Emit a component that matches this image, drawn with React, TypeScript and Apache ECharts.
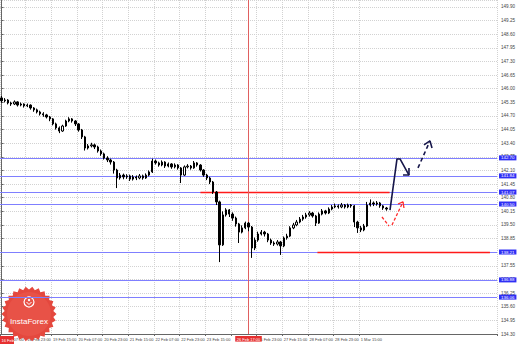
import React, { useEffect, useRef } from "react";
import * as echarts from "echarts";

// 2-hour candles
const opens = [145.56,145.42,145.46,145.32,145.27,145.37,145.22,145.27,145.18,145.22,145.08,144.99,144.89,144.80,144.75,144.65,144.56,144.32,144.13,143.98,
144.22,144.46,144.56,144.46,144.32,144.03,143.70,143.17,143.27,143.32,143.22,143.03,142.89,142.69,142.60,142.50,142.12,141.74,141.88,141.79,
141.84,141.69,141.79,141.74,141.84,141.74,141.88,142.03,142.55,142.46,142.36,142.50,142.31,142.41,142.27,142.36,142.22,141.88,142.27,142.31,
142.22,142.46,142.36,142.12,141.88,141.74,141.55,141.07,140.60,138.55,139.98,140.22,140.02,139.83,139.55,139.16,139.36,139.59,139.40,138.40,
138.78,139.07,139.16,139.07,138.78,138.64,138.59,138.69,138.50,138.88,138.97,139.36,139.50,139.64,139.78,139.88,139.98,140.07,139.93,139.59,
140.02,140.17,140.07,140.26,140.36,140.41,140.36,140.45,140.36,140.45,140.41,139.64,139.36,139.26,139.45,140.45,140.55,140.50,140.55,140.41,140.31];
const closes = [145.42,145.46,145.32,145.27,145.37,145.22,145.27,145.18,145.22,145.08,144.99,144.89,144.80,144.75,144.65,144.56,144.32,144.13,143.98,144.22,
144.46,144.56,144.46,144.32,144.03,143.70,143.17,143.27,143.32,143.22,143.03,142.89,142.69,142.60,142.50,142.12,141.74,141.88,141.79,141.84,
141.69,141.79,141.74,141.84,141.74,141.88,142.03,142.55,142.46,142.36,142.50,142.31,142.41,142.27,142.36,142.22,141.88,142.27,142.31,142.22,
142.46,142.36,142.12,141.88,141.74,141.55,141.07,140.60,138.55,139.98,140.22,140.02,139.83,139.55,139.16,139.36,139.59,139.40,138.40,138.78,
139.07,139.16,139.07,138.78,138.64,138.59,138.69,138.50,138.88,138.97,139.36,139.50,139.64,139.78,139.88,139.98,140.07,139.93,139.59,140.02,
140.17,140.07,140.26,140.36,140.41,140.36,140.45,140.36,140.45,140.41,139.64,139.36,139.26,139.45,140.45,140.55,140.50,140.55,140.41,140.31,140.26];
const highs = [145.65,145.55,145.50,145.38,145.44,145.40,145.34,145.30,145.29,145.25,145.12,145.05,144.95,144.88,144.80,144.70,144.60,144.38,144.20,144.28,
144.52,144.64,144.60,144.50,144.36,144.08,143.75,143.36,143.42,143.38,143.28,143.10,142.95,142.78,142.66,142.55,142.18,141.98,141.95,141.92,
141.90,141.88,141.86,141.93,141.90,141.96,142.10,142.66,142.62,142.52,142.58,142.54,142.48,142.45,142.44,142.40,142.26,142.34,142.40,142.36,
142.55,142.50,142.40,142.16,141.94,141.80,141.60,141.12,140.66,140.15,140.30,140.26,140.10,139.90,139.60,139.48,139.66,139.64,139.45,138.90,
139.18,139.26,139.22,139.12,138.85,138.72,138.78,138.74,138.95,139.08,139.44,139.60,139.74,139.88,139.98,140.08,140.16,140.12,139.98,140.10,
140.26,140.22,140.34,140.45,140.52,140.48,140.55,140.50,140.52,140.50,140.45,139.70,139.45,139.55,140.60,140.72,140.62,140.64,140.60,140.45,140.36];
const lows = [145.33,145.35,145.25,145.18,145.22,145.15,145.16,145.10,145.12,145.00,144.90,144.82,144.72,144.66,144.58,144.45,144.25,144.05,143.88,143.94,
144.18,144.40,144.38,144.22,143.95,143.60,143.05,143.10,143.20,143.12,142.95,142.80,142.62,142.50,142.38,141.95,141.26,141.66,141.68,141.70,
141.60,141.62,141.64,141.68,141.66,141.70,141.82,141.98,142.38,142.28,142.30,142.22,142.25,142.18,142.20,142.14,141.50,141.84,142.20,142.14,
142.18,142.28,142.05,141.80,141.64,141.45,140.98,140.45,137.73,138.50,139.90,139.88,139.70,139.42,138.64,139.10,139.30,139.20,137.93,138.30,
138.70,139.00,138.95,138.68,138.55,138.50,138.52,138.07,138.44,138.80,138.92,139.30,139.44,139.58,139.70,139.80,139.90,139.85,139.45,139.55,
139.96,140.00,140.02,140.20,140.30,140.28,140.30,140.28,140.30,140.32,139.40,139.12,139.16,139.20,139.40,140.38,140.40,140.42,140.32,140.22,140.18];

// time-axis tick labels, one every 8 bars ("" = hidden under the red marker label)
const tickLabels = ["07:00","16 Feb 23:00","19 Feb 15:00","20 Feb 07:00","20 Feb 23:00","21 Feb 15:00","22 Feb 07:00","22 Feb 23:00","23 Feb 15:00","","26 Feb 23:00","27 Feb 15:00","28 Feb 07:00","28 Feb 23:00","1 Mar 15:00"];
const firstDateLabel = "16 Feb";
const TICK_EVERY = 8;
const SLOTS = 155;

// price scale (labels from 134.30 every 0.65 up to 149.90; the top edge sits a little above)
const yMin = 134.3;
const yMax = 150.23;
const yStep = 0.65;

// drawn levels
const blueLevels = [142.70, 141.84, 141.07, 140.50, 138.21, 136.88, 136.06];
const currentPrice = 140.26;
const redLevelPrices = [141.07, 138.21];
const redLevelStart = [62, 98.5];
const redLevelEnd = [121, 152.3];
const vLineIndex = 77;
const vLineLabel = "26 Feb 17:00";

// drawn arrows (bar index, price)
const blackPath = [[121.13, 140.21], [123.31, 142.65], [124.25, 142.65], [127.05, 141.88]];
const blackHead = [[127.05, 142.22], [127.05, 141.88], [125.18, 141.88]];
const dashPath = [[129.86, 142.22], [133.6, 143.51]];
const dashHead = [[131.73, 143.32], [133.6, 143.51], [134.23, 143.17]];
const redPathA = [[118.63, 139.88], [120.82, 139.45]];
const redPathB = [[121.75, 139.5], [125.18, 140.6]];
const redHead = [[123.62, 140.5], [125.18, 140.6], [125.49, 140.31]];

const FONT = "Liberation Sans";
const XFS = 4.0;

export default function App() {
  const ref = useRef<HTMLDivElement>(null);
  useEffect(() => {
    if (!ref.current) return;
    const chart = echarts.init(ref.current, null, { renderer: "svg" });
    const categories = Array.from({ length: SLOTS }, (_, i) => String(i));
    const candles = opens.map((o, i) => [o, closes[i], lows[i], highs[i]]);
    const showTick = (idx: number) => idx % TICK_EVERY === 0 && idx / TICK_EVERY < tickLabels.length;

    // starburst logo
    const cx = 29, cy = 314, spikes = 26;
    const burst: number[][] = [];
    for (let k = 0; k < spikes * 2; k++) {
      const r = k % 2 === 0 ? 27.5 : 24.5;
      const a = (Math.PI * k) / spikes;
      burst.push([cx + r * Math.cos(a), cy + r * Math.sin(a)]);
    }

    const annStyle = (color: string, type: any, width: number) => ({
      type: "line",
      xAxisIndex: 1,
      yAxisIndex: 0,
      symbol: "none",
      silent: true,
      lineStyle: { color, type, width },
      z: 5,
    });

    const boxLabel = (text: string, bg: string, position: string, size: number) => ({
      show: true,
      position,
      distance: 2,
      formatter: text,
      backgroundColor: bg,
      color: "#fff",
      fontSize: size,
      lineHeight: size + 0.6,
      padding: [0, 2, 0, 2],
      fontFamily: FONT,
    });

    chart.setOption({
      animation: false,
      backgroundColor: "#ffffff",
      textStyle: { fontFamily: FONT },
      grid: { left: 0, right: 22, top: 0, bottom: 10, containLabel: false },
      xAxis: [
        {
          type: "category",
          data: categories,
          boundaryGap: true,
          axisLine: { show: true, lineStyle: { color: "#666", width: 1 } },
          axisTick: { show: true, interval: showTick, length: 2, lineStyle: { color: "#666" } },
          axisLabel: {
            interval: showTick,
            formatter: (_v: string, idx: number) => {
              const t = tickLabels[idx / TICK_EVERY] ?? "";
              return idx === 0 ? "{first|" + t + "}" : t;
            },
            rich: { first: { padding: [0, 0, 0, 12], fontSize: XFS, color: "#444", fontFamily: FONT } },
            align: "left",
            fontSize: XFS,
            color: "#444",
            margin: 3,
            fontFamily: FONT,
          },
          splitLine: { show: true, interval: showTick, lineStyle: { color: "#d2d2d2", type: "dotted", width: 1 } },
        },
        { type: "value", min: -0.5, max: SLOTS - 0.5, show: false },
      ],
      yAxis: {
        type: "value",
        position: "right",
        min: yMin,
        max: yMax,
        interval: yStep,
        axisLine: { show: true, lineStyle: { color: "#666", width: 1 } },
        axisTick: { show: true, length: 2, lineStyle: { color: "#666" } },
        axisLabel: { fontSize: 4.6, color: "#444", margin: 4, showMaxLabel: false, formatter: (v: number) => v.toFixed(2), fontFamily: FONT },
        splitLine: { show: true, lineStyle: { color: "#d2d2d2", type: "dotted", width: 1 } },
      },
      graphic: [
        { type: "polygon", shape: { points: burst }, style: { fill: "#e4483e" }, z: 1 },
        { type: "circle", shape: { cx, cy, r: 22 }, style: { fill: "#e85247" }, z: 1 },
        { type: "circle", shape: { cx, cy: 302, r: 5 }, style: { fill: "none", stroke: "#fff", lineWidth: 1.2 }, z: 2 },
        { type: "circle", shape: { cx, cy: 300, r: 1.2 }, style: { fill: "#fff" }, z: 2 },
        { type: "polyline", shape: { points: [[cx - 2.5, 302], [cx, 304.5], [cx + 2.5, 302]] }, style: { stroke: "#fff", lineWidth: 1, fill: "none" }, z: 2 },
        { type: "text", x: cx, y: 321, style: { text: "InstaForex", fill: "#fff", fontSize: 8, fontFamily: FONT, align: "center", verticalAlign: "middle" }, z: 2 },
        { type: "rect", shape: { x: 0, y: 336, width: 14, height: 8 }, style: { fill: "#e63030" }, z: 10 },
        { type: "text", x: 1.5, y: 340.5, style: { text: firstDateLabel, fill: "#fff", fontSize: XFS, fontFamily: FONT, verticalAlign: "middle" }, z: 11 },
      ],
      series: [
        {
          type: "candlestick",
          xAxisIndex: 0,
          yAxisIndex: 0,
          data: candles,
          barWidth: 1.8,
          itemStyle: { color: "#ffffff", color0: "#000000", borderColor: "#000000", borderColor0: "#000000", borderWidth: 1 },
          silent: true,
          z: 3,
        },
        {
          ...annStyle("#000", "solid", 1),
          data: [],
          markLine: {
            silent: true,
            symbol: "none",
            z: 2,
            data: [
              ...blueLevels.map((p) => ({
                yAxis: p,
                lineStyle: { color: "#7f7fff", width: 1, type: "solid" },
                label: boxLabel(p.toFixed(2), "#2f2ff5", "end", 4.4),
              })),
              {
                yAxis: currentPrice,
                lineStyle: { opacity: 0 },
                label: boxLabel(currentPrice.toFixed(2), "#1a1a1a", "end", 4.4),
              },
              ...redLevelPrices.map((p, i) => [
                { coord: [redLevelStart[i], p], lineStyle: { color: "#ff1a1a", width: 1.3, type: "solid" }, label: { show: false } },
                { coord: [redLevelEnd[i], p] },
              ]),
              {
                xAxis: vLineIndex,
                lineStyle: { color: "#e06060", width: 1, type: "solid" },
                label: { ...boxLabel(vLineLabel, "#e63030", "start", XFS), padding: [1, 1.5, 0, 1.5] },
              },
            ],
          },
        },
        { ...annStyle("#16164a", "solid", 1.6), data: blackPath },
        { ...annStyle("#16164a", "solid", 1.6), data: blackHead },
        { ...annStyle("#16164a", [4, 3], 1.6), data: dashPath },
        { ...annStyle("#16164a", "solid", 1.6), data: dashHead },
        { ...annStyle("#ff2a2a", [3, 2], 1.3), data: redPathA },
        { ...annStyle("#ff2a2a", [3, 2], 1.3), data: redPathB },
        { ...annStyle("#ff2a2a", "solid", 1.3), data: redHead },
      ],
    });
    return () => chart.dispose();
  }, []);
  return <div ref={ref} style={{ position: "fixed", left: 0, top: 0, width: 519, height: 344 }} />;
}
